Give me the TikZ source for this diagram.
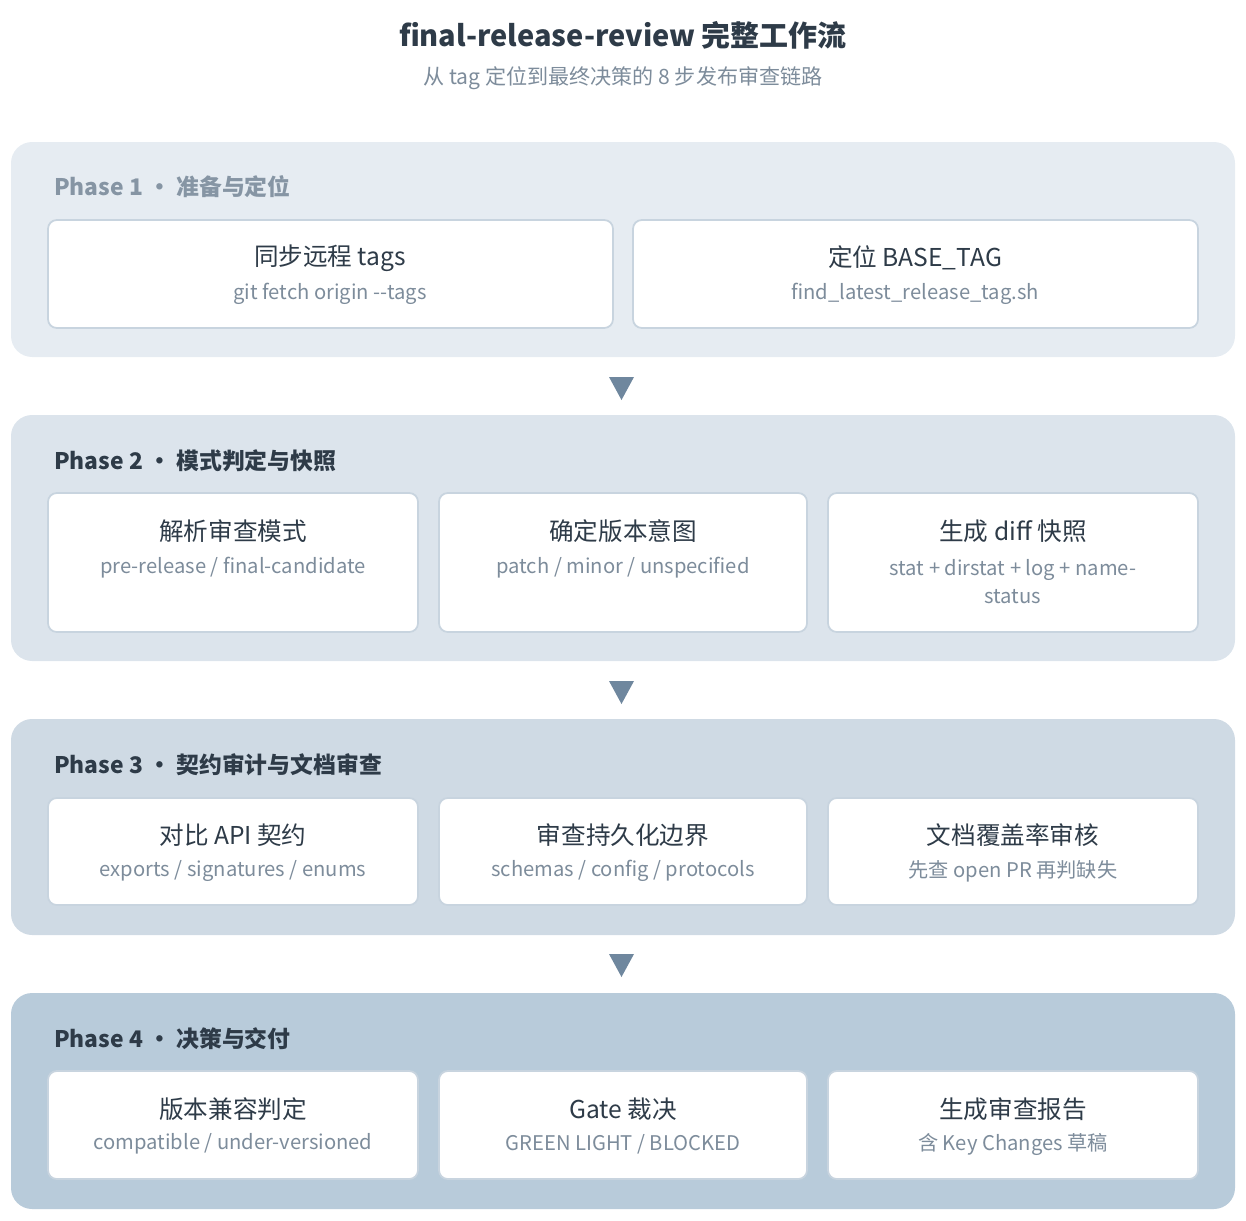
\documentclass[tikz,border=0pt]{standalone}
\usepackage{fontspec}
\setmainfont{Noto Sans CJK SC}
\definecolor{titlecol}{HTML}{2E3B48}
\definecolor{subcol}{HTML}{7D8C9B}
\definecolor{boxline}{HTML}{C8D4DF}
\definecolor{arrowcol}{HTML}{6F879E}
\definecolor{phaseA}{HTML}{E6ECF2}
\definecolor{phaseB}{HTML}{DCE4EC}
\definecolor{phaseC}{HTML}{CFDAE4}
\definecolor{phaseD}{HTML}{B8CBDA}
\tikzset{
  panel/.style={rounded corners=12pt, draw=none},
  stepbox/.style={draw=boxline, line width=1pt, fill=white, rounded corners=5pt},
  head/.style={font=\fontsize{14}{16}\selectfont, text=titlecol},
  sub/.style={font=\fontsize{11.5}{16}\selectfont, text=subcol, align=center},
  phase/.style={font=\fontsize{13}{15}\selectfont\bfseries, anchor=west},
}
\begin{document}
\begin{tikzpicture}[x=0.02cm, y=-0.02cm]
\useasboundingbox (0,0) rectangle (1246,1220);

\node[font=\fontsize{16.5}{19}\selectfont\bfseries, text=titlecol] (title) at (623,35) {final-release-review 完整工作流};
\node[font=\fontsize{12}{14}\selectfont, text=subcol] (subtitle) at (623,78) {从 tag 定位到最终决策的 8 步发布审查链路};

% panels
\fill[panel, phaseA] (11,142) rectangle (1235,357);
\fill[panel, phaseB] (11,415) rectangle (1235,661);
\fill[panel, phaseC] (11,719) rectangle (1235,935);
\fill[panel, phaseD] (11,993) rectangle (1235,1209);

\node[phase, text=subcol!85!phaseD] (p1) at (48,187) {Phase 1 • 准备与定位};
\node[phase, text=titlecol] (p2) at (48,461) {Phase 2 • 模式判定与快照};
\node[phase, text=titlecol] (p3) at (48,765) {Phase 3 • 契约审计与文档审查};
\node[phase, text=titlecol] (p4) at (48,1039) {Phase 4 • 决策与交付};

% phase 1
\draw[stepbox] (48,220) rectangle (613,328);
\draw[stepbox] (633,220) rectangle (1198,328);
\node[head] (s1) at (330,258) {同步远程 tags};
\node[sub] (s1b) at (330,294) {git fetch origin -{}-tags};
\node[head] (s2) at (915,258) {定位 BASE\_TAG};
\node[sub] (s2b) at (915,294) {find\_latest\_release\_tag.sh};

% phase 2
\foreach \xa/\xb in {48/418, 439/807, 828/1198}
  \draw[stepbox] (\xa,493) rectangle (\xb,632);
\node[head] (s3) at (233,531) {解析审查模式};
\node[sub] (s3b) at (233,568) {pre-release / final-candidate};
\node[head] (s4) at (623,531) {确定版本意图};
\node[sub] (s4b) at (623,568) {patch / minor / unspecified};
\node[head] (s5) at (1013,531) {生成 diff 快照};
\node[sub, anchor=north] (s5b) at (1013,553) {stat + dirstat + log + name-\\status};

% phase 3
\foreach \xa/\xb in {48/418, 439/807, 828/1198}
  \draw[stepbox] (\xa,798) rectangle (\xb,905);
\node[head] (s6) at (233,835) {对比 API 契约};
\node[sub] (s6b) at (233,871) {exports / signatures / enums};
\node[head] (s7) at (623,835) {审查持久化边界};
\node[sub] (s7b) at (623,871) {schemas / config / protocols};
\node[head] (s8) at (1013,835) {文档覆盖率审核};
\node[sub] (s8b) at (1013,871) {先查 open PR 再判缺失};

% phase 4
\foreach \xa/\xb in {48/418, 439/807, 828/1198}
  \draw[stepbox] (\xa,1071) rectangle (\xb,1179);
\node[head] (s9) at (233,1109) {版本兼容判定};
\node[sub] (s9b) at (233,1144) {compatible / under-versioned};
\node[head] (s10) at (623,1109) {Gate 裁决};
\node[sub] (s10b) at (623,1144) {GREEN LIGHT / BLOCKED};
\node[head] (s11) at (1013,1109) {生成审查报告};
\node[sub] (s11b) at (1013,1144) {含 Key Changes 草稿};

% arrows between phases
\foreach \y in {377, 681, 954}
  \fill[arrowcol] (609,\y) -- (634,\y) -- (621.5,\y+23) -- cycle;
\end{tikzpicture}
\end{document}
